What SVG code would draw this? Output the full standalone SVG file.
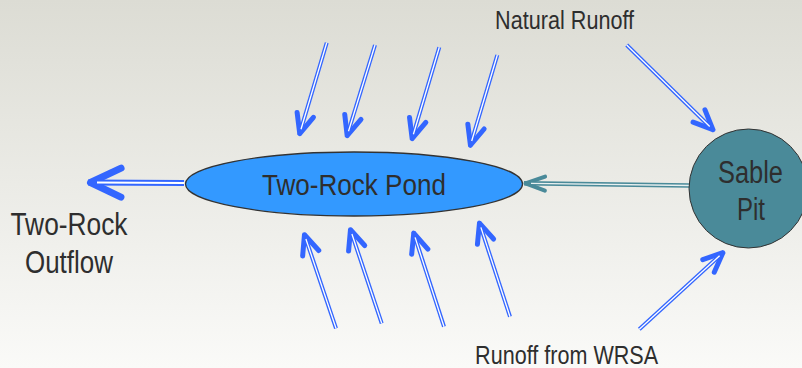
<svg xmlns="http://www.w3.org/2000/svg" width="802" height="368" viewBox="0 0 802 368">
  <defs>
    <linearGradient id="bg" x1="0" y1="0" x2="0" y2="1">
      <stop offset="0" stop-color="#dcdcd4"/>
      <stop offset="1" stop-color="#fafaf8"/>
    </linearGradient>
    <marker id="hb" markerUnits="userSpaceOnUse" orient="auto" markerWidth="60" markerHeight="60" refX="0" refY="0" viewBox="-30 -30 60 60" overflow="visible">
      <path d="M-21,-8.5 L-1.5,0 L-21,8.5" fill="none" stroke="#3366ff" stroke-width="5" stroke-linecap="round" stroke-linejoin="round"/>
    </marker>
    <marker id="hbig" markerUnits="userSpaceOnUse" orient="auto" markerWidth="80" markerHeight="80" refX="0" refY="0" viewBox="-40 -40 80 80" overflow="visible">
      <path d="M-33,-14.5 L-2.5,0 L-33,14.5" fill="none" stroke="#3366ff" stroke-width="7" stroke-linecap="round" stroke-linejoin="round"/>
    </marker>
    <marker id="ht" markerUnits="userSpaceOnUse" orient="auto" markerWidth="60" markerHeight="60" refX="0" refY="0" viewBox="-30 -30 60 60" overflow="visible">
      <path d="M-21,-7 L-1.5,0 L-21,7" fill="none" stroke="#4a8a99" stroke-width="4" stroke-linecap="round" stroke-linejoin="round"/>
    </marker>
  </defs>
  <style>
    .lbl { font-family: "Liberation Sans Narrow", "Liberation Sans", Arial, sans-serif; fill: #2e2e2e; }
    .bo { fill: none; stroke: #3366ff; stroke-width: 4; }
    .bi { fill: none; stroke: #ffffff; stroke-width: 1.3; }
    .lo { fill: none; stroke: #3366ff; stroke-width: 6; }
    .li { fill: none; stroke: #ffffff; stroke-width: 2; }
    .to { fill: none; stroke: #4a8a99; stroke-width: 4.5; }
    .ti { fill: none; stroke: #e8f0f0; stroke-width: 1.3; }
  </style>
  <rect x="0" y="0" width="802" height="368" fill="url(#bg)"/>

  <g id="connectors">
    <!-- top arrows into pond -->
    <path class="bo" d="M326.7,42.7 L299.3,135" marker-end="url(#hb)"/>
    <path class="bi" d="M326.7,42.7 L301,129.3"/>
    <path class="bo" d="M375,45 L346.7,137" marker-end="url(#hb)"/>
    <path class="bi" d="M375,45 L348.5,131.3"/>
    <path class="bo" d="M439.3,47.3 L411.7,140" marker-end="url(#hb)"/>
    <path class="bi" d="M439.3,47.3 L413.4,134.2"/>
    <path class="bo" d="M497.3,55 L470,146.7" marker-end="url(#hb)"/>
    <path class="bi" d="M497.3,55 L471.7,141"/>
    <!-- bottom arrows into pond -->
    <path class="bo" d="M336,328.3 L304,233.3" marker-end="url(#hb)"/>
    <path class="bi" d="M336,328.3 L305.9,239"/>
    <path class="bo" d="M381.7,323.3 L350,228.3" marker-end="url(#hb)"/>
    <path class="bi" d="M381.7,323.3 L351.9,234"/>
    <path class="bo" d="M444,326.7 L413.3,231.7" marker-end="url(#hb)"/>
    <path class="bi" d="M444,326.7 L415.1,237.4"/>
    <path class="bo" d="M510,316.7 L479,221.7" marker-end="url(#hb)"/>
    <path class="bi" d="M510,316.7 L480.9,227.4"/>
    <!-- natural runoff to sable pit -->
    <path class="bo" d="M626.7,45 L714,130.7" marker-end="url(#hb)"/>
    <path class="bi" d="M626.7,45 L709.7,126.5"/>
    <!-- runoff from WRSA to sable pit -->
    <path class="bo" d="M639.3,329.3 L724,251.7" marker-end="url(#hb)"/>
    <path class="bi" d="M639.3,329.3 L719.6,255.7"/>
    <!-- outflow -->
    <path class="lo" d="M184,183 L88,182.5" marker-end="url(#hbig)"/>
    <path class="li" d="M184,183 L97,182.6"/>
    <!-- sable pit to pond -->
    <path class="to" d="M689,185.5 L524,183.3" marker-end="url(#ht)"/>
    <path class="ti" d="M689,185.5 L531,183.4"/>
  </g>

  <g id="pond">
    <ellipse cx="354" cy="184" rx="168.5" ry="32" fill="#3399ff" stroke="#333333" stroke-width="1.3"/>
    <text class="lbl" x="354" y="195" font-size="30" text-anchor="middle" textLength="184" lengthAdjust="spacingAndGlyphs">Two-Rock Pond</text>
  </g>

  <g id="sable-pit">
    <circle cx="748.5" cy="188.5" r="59.5" fill="#4a8a99" stroke="#333333" stroke-width="1"/>
    <text class="lbl" x="750.5" y="183" font-size="31" text-anchor="middle" textLength="65" lengthAdjust="spacingAndGlyphs">Sable</text>
    <text class="lbl" x="751" y="220" font-size="31" text-anchor="middle" textLength="28" lengthAdjust="spacingAndGlyphs">Pit</text>
  </g>

  <g id="outflow-label">
    <text class="lbl" x="69" y="235" font-size="31" text-anchor="middle" textLength="117" lengthAdjust="spacingAndGlyphs">Two-Rock</text>
    <text class="lbl" x="69" y="272.7" font-size="31" text-anchor="middle" textLength="88" lengthAdjust="spacingAndGlyphs">Outflow</text>
  </g>

  <g id="natural-runoff-label">
    <text class="lbl" x="564.6" y="29.3" font-size="25" text-anchor="middle" textLength="139" lengthAdjust="spacingAndGlyphs">Natural Runoff</text>
  </g>

  <g id="wrsa-label">
    <text class="lbl" x="566.6" y="364" font-size="25" text-anchor="middle" textLength="183" lengthAdjust="spacingAndGlyphs">Runoff from WRSA</text>
  </g>
</svg>
